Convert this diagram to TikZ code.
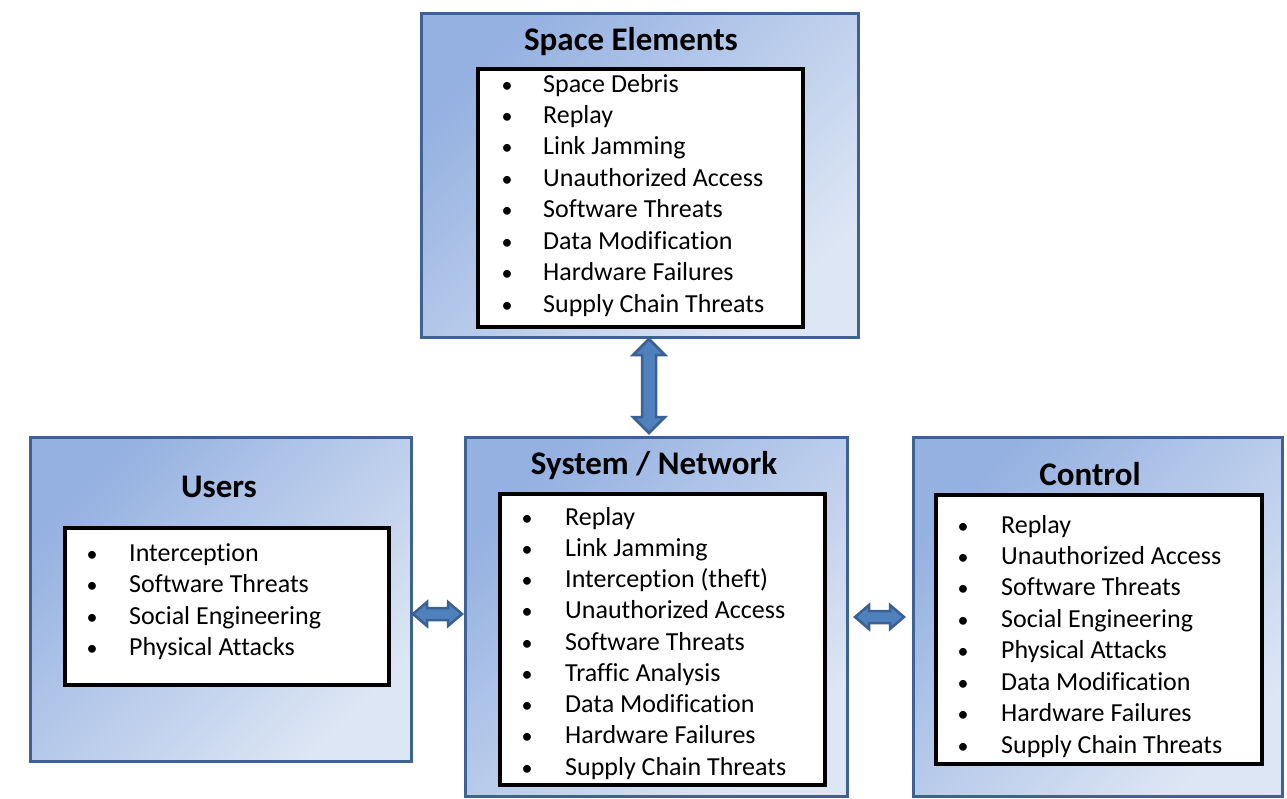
\documentclass[tikz,border=0pt]{standalone}
\usepackage{fontspec}
\setmainfont{Carlito}[Ligatures={NoCommon}]
\definecolor{bordblue}{HTML}{3E6294}
\definecolor{gradA}{HTML}{95B1E1}
\definecolor{gradB}{HTML}{DDE6F4}
\definecolor{arrfill}{HTML}{4F81BD}
\definecolor{arrline}{HTML}{3A6094}
\tikzset{
  outerbox/.style={draw=bordblue, line width=3pt, top color=gradA, bottom color=gradB, shading angle=45, anchor=north west, inner sep=0pt},
  innerbox/.style={draw=black, line width=3.5pt, fill=white, anchor=north west, inner sep=0pt},
  boxtitle/.style={font=\fontsize{33}{40}\selectfont\bfseries, anchor=base, inner sep=0pt},
  itemtext/.style={font=\fontsize{26}{31}\selectfont, anchor=base west, inner sep=0pt},
  bulletmark/.style={font=\fontsize{22}{26}\selectfont, anchor=base, inner sep=0pt},
  blockarrow/.style={draw=arrline, fill=arrfill, line width=2.5pt, line join=miter}
}
\begin{document}
\begin{tikzpicture}[x=1pt, y=-1pt]
\useasboundingbox (0,0) rectangle (1287,798);
\fill[white] (0,0) rectangle (1287,798);

% Boxes
\node[outerbox, minimum width=437pt, minimum height=324pt] (se) at (420,12) {};
\node[innerbox, minimum width=325pt, minimum height=258pt] (sein) at (476,67) {};
\node[outerbox, minimum width=381pt, minimum height=324pt] (us) at (29,436) {};
\node[innerbox, minimum width=324pt, minimum height=157pt] (usin) at (63,526) {};
\node[outerbox, minimum width=382pt, minimum height=359pt] (sn) at (464,436) {};
\node[innerbox, minimum width=325pt, minimum height=291pt] (snin) at (498,492) {};
\node[outerbox, minimum width=369pt, minimum height=359pt] (ct) at (912,436) {};
\node[innerbox, minimum width=326pt, minimum height=269pt] (ctin) at (934,493) {};

% Titles
\node[boxtitle] (set) at (631,50) {Space Elements};
\node[boxtitle] (ust) at (219,497) {Users};
\node[boxtitle] (snt) at (654,474) {System / Network};
\node[boxtitle] (ctt) at (1090,485) {Control};

% Lists
\foreach \t [count=\i] in {Space Debris, Replay, Link Jamming, Unauthorized Access, Software Threats, Data Modification, Hardware Failures, Supply Chain Threats}{
  \node[bulletmark] (seb-\i) at (507,{92+(\i-1)*31.43}) {•};
  \node[itemtext] (sei-\i) at (543,{92+(\i-1)*31.43}) {\t};
}
\foreach \t [count=\i] in {Interception, Software Threats, Social Engineering, Physical Attacks}{
  \node[bulletmark] (usb-\i) at (92,{561+(\i-1)*31.6}) {•};
  \node[itemtext] (usi-\i) at (129,{561+(\i-1)*31.6}) {\t};
}
\foreach \t [count=\i] in {Replay, Link Jamming, Interception (theft), Unauthorized Access, Software Threats, Traffic Analysis, Data Modification, Hardware Failures, Supply Chain Threats}{
  \node[bulletmark] (snb-\i) at (527,{525+(\i-1)*31.25}) {•};
  \node[itemtext] (sni-\i) at (565,{525+(\i-1)*31.25}) {\t};
}
\foreach \t [count=\i] in {Replay, Unauthorized Access, Software Threats, Social Engineering, Physical Attacks, Data Modification, Hardware Failures, Supply Chain Threats}{
  \node[bulletmark] (ctb-\i) at (963,{533+(\i-1)*31.43}) {•};
  \node[itemtext] (cti-\i) at (1001,{533+(\i-1)*31.43}) {\t};
}

% Arrow end points
\coordinate (vt) at (649,339);
\coordinate (vb) at (649,433);
\coordinate (lt) at (413,614);
\coordinate (lr) at (462,614);
\coordinate (rt) at (855,617);
\coordinate (rr) at (904,617);

% Vertical double arrow (Space Elements <-> System/Network)
\draw[blockarrow] (vt) -- ++(16,16) -- ++(-9,0) -- ++(0,62) -- ++(9,0) -- (vb)
  -- ++(-16,-16) -- ++(9,0) -- ++(0,-62) -- ++(-9,0) -- cycle;
% Users <-> System/Network
\draw[blockarrow] (lt) -- ++(14,-12) -- ++(0,6) -- ++(21,0) -- ++(0,-6) -- (lr)
  -- ++(-14,12) -- ++(0,-6) -- ++(-21,0) -- ++(0,6) -- cycle;
% System/Network <-> Control
\draw[blockarrow] (rt) -- ++(14,-12) -- ++(0,6) -- ++(21,0) -- ++(0,-6) -- (rr)
  -- ++(-14,12) -- ++(0,-6) -- ++(-21,0) -- ++(0,6) -- cycle;
\end{tikzpicture}
\end{document}
